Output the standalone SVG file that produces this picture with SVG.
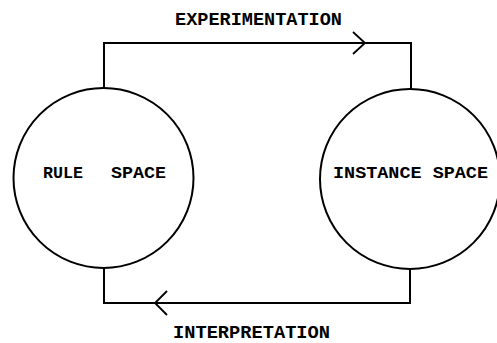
<svg xmlns="http://www.w3.org/2000/svg" width="497" height="343" viewBox="0 0 497 343">
  <style>
    .node { fill: none; stroke: #000; stroke-width: 2; }
    .conn { fill: none; stroke: #000; stroke-width: 2; stroke-linejoin: miter; }
    .head { fill: none; stroke: #000; stroke-width: 1.8; }
    text { font-family: "Liberation Mono", "DejaVu Sans Mono", monospace; font-weight: bold; fill: #000; }
    .lbl { font-size: 18px; }
    .nlbl { font-size: 17px; }
  </style>
  <rect width="497" height="343" fill="#fff"/>
  <g id="connectors">
    <g id="experimentation">
      <polyline class="conn" points="104,88 104,43 411,43 411,89"/>
      <polyline class="head" points="353,32 365,43 353,54"/>
      <text class="lbl" x="175" y="25" textLength="167" lengthAdjust="spacingAndGlyphs">EXPERIMENTATION</text>
    </g>
    <g id="interpretation">
      <polyline class="conn" points="104,268 104,303 410,303 410,269"/>
      <polyline class="head" points="167,291 155,303 167,315"/>
      <text class="lbl" x="173" y="338" textLength="157" lengthAdjust="spacingAndGlyphs">INTERPRETATION</text>
    </g>
  </g>
  <g id="rule-space">
    <circle class="node" cx="103.5" cy="178" r="90"/>
    <text class="nlbl" x="43" y="178" textLength="40" lengthAdjust="spacingAndGlyphs">RULE</text>
    <text class="nlbl" x="111" y="178" textLength="55" lengthAdjust="spacingAndGlyphs">SPACE</text>
  </g>
  <g id="instance-space">
    <circle class="node" cx="410" cy="179" r="90"/>
    <text class="nlbl" x="333" y="178" textLength="155" lengthAdjust="spacingAndGlyphs">INSTANCE SPACE</text>
  </g>
</svg>
